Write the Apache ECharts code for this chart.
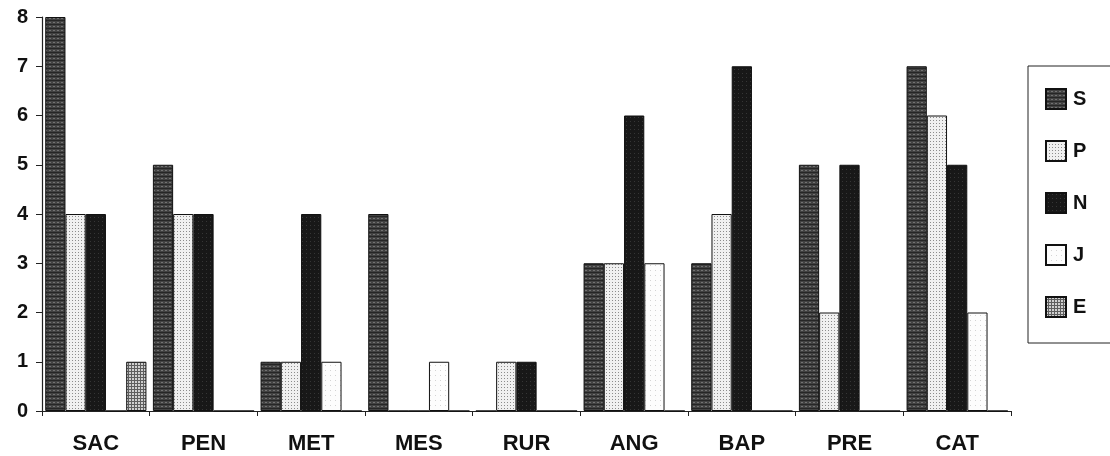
<!DOCTYPE html>
<html>
<head>
<meta charset="utf-8">
<script src="https://cdn.jsdelivr.net/npm/echarts@6/dist/echarts.min.js"></script>
<style>
  html, body { margin: 0; padding: 0; background: #fff; }
  #chart { width: 1110px; height: 456px; }
</style>
</head>
<body>
<div id="chart"></div>
<script>
// Categories along the x axis
const categories = ['SAC', 'PEN', 'MET', 'MES', 'RUR', 'ANG', 'BAP', 'PRE', 'CAT'];

// Counts per category for each group
const seriesNames = ['S', 'P', 'N', 'J', 'E'];
const valuesS = [8, 5, 1, 4, 0, 3, 3, 5, 7];
const valuesP = [4, 4, 1, 0, 1, 3, 4, 2, 6];
const valuesN = [4, 4, 4, 0, 1, 6, 7, 5, 5];
const valuesJ = [0, 0, 1, 1, 0, 3, 0, 0, 2];
const valuesE = [1, 0, 0, 0, 0, 0, 0, 0, 0];

// Y axis ticks
const yTicks = [0, 1, 2, 3, 4, 5, 6, 7, 8];

// Small repeating fill textures, one per group
function pattern(w, h, bg, draw) {
  const c = document.createElement('canvas');
  c.width = w; c.height = h;
  const g = c.getContext('2d');
  g.fillStyle = bg;
  g.fillRect(0, 0, w, h);
  draw(g);
  return { image: c, repeat: 'repeat' };
}

const fills = {
  S: pattern(4, 4, '#424242', g => {
    g.fillStyle = '#262626'; g.fillRect(0, 0, 4, 1);
    g.fillStyle = '#727272'; g.fillRect(1, 2, 2, 1);
  }),
  P: pattern(3, 3, '#f0f0f0', g => {
    g.fillStyle = '#8c8c8c'; g.fillRect(0, 0, 1, 1);
  }),
  N: pattern(4, 4, '#181818', g => {
    g.fillStyle = '#363636'; g.fillRect(2, 1, 1, 1);
  }),
  J: pattern(5, 5, '#fdfdfd', g => {
    g.fillStyle = '#d4d4d4'; g.fillRect(0, 0, 1, 1);
  }),
  E: pattern(3, 3, '#5e5e5e', g => {
    g.fillStyle = '#d0d0d0'; g.fillRect(0, 0, 2, 2);
  })
};

const allValues = [valuesS, valuesP, valuesN, valuesJ, valuesE];

const chart = echarts.init(document.getElementById('chart'), null, { renderer: 'canvas' });

const fontFamily = '"Liberation Sans", Arial, sans-serif';

chart.setOption({
  animation: false,
  backgroundColor: '#ffffff',
  grid: { left: 42, right: 99, top: 17, bottom: 45, containLabel: false },
  legend: {
    orient: 'vertical',
    left: 1028,
    top: 66,
    padding: [22, 40, 25, 17],
    itemWidth: 20,
    itemHeight: 20,
    itemGap: 30,
    borderColor: '#222',
    borderWidth: 1,
    icon: 'rect',
    data: seriesNames,
    textStyle: { color: '#111', fontSize: 20, fontWeight: 'bold', fontFamily: fontFamily, padding: [0, 0, 0, 2] }
  },
  xAxis: {
    type: 'category',
    data: categories,
    axisLine: { lineStyle: { color: '#222', width: 1.2 } },
    axisTick: { show: true, length: 5, lineStyle: { color: '#222' } },
    axisLabel: { color: '#111', fontSize: 22, fontWeight: 'bold', fontFamily: fontFamily, margin: 22 },
    splitLine: { show: false }
  },
  yAxis: {
    type: 'value',
    min: yTicks[0],
    max: yTicks[yTicks.length - 1],
    interval: 1,
    axisLine: { show: true, lineStyle: { color: '#222', width: 1.2 } },
    axisTick: { show: true, length: 6, lineStyle: { color: '#222' } },
    axisLabel: { color: '#111', fontSize: 20, fontWeight: 'bold', fontFamily: fontFamily, margin: 14 },
    splitLine: { show: false }
  },
  series: seriesNames.map((name, i) => ({
    name: name,
    type: 'bar',
    data: allValues[i],
    barGap: '0%',
    barCategoryGap: '6%',
    itemStyle: { color: fills[name], borderColor: '#111', borderWidth: 1 }
  }))
});
</script>
</body>
</html>
